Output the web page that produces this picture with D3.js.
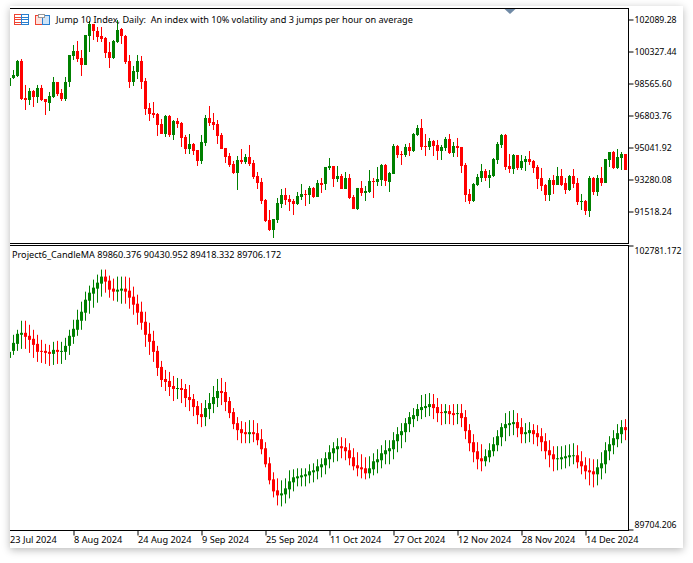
<!DOCTYPE html>
<html>
<head>
<meta charset="utf-8">
<script src="https://cdn.jsdelivr.net/npm/d3@7"></script>
<style>
  html, body { margin: 0; padding: 0; background: #fff; }
  #window { position: absolute; left: 10px; top: 6px; width: 673px; height: 542px; background: #fff; box-shadow: 0 2px 8px rgba(0,0,0,.28); }
  #chart { position: absolute; left: 0; top: 0; }
  text { font-family: "Noto Sans", sans-serif; font-size: 9.13px; fill: #000; }
</style>
</head>
<body>
<div id="window"></div>
<div id="chart"></div>
<script>
// tick labels
const priceTicks = [102089.28, 100327.44, 98565.60, 96803.76, 95041.92, 93280.08, 91518.24];
const lowerTicks = [102781.172, 89704.206];
const dateTickIndex = [0, 16, 32, 48, 64, 80, 96, 112, 128, 144];
const dateTickLabels = ['23 Jul 2024', '8 Aug 2024', '24 Aug 2024', '9 Sep 2024', '25 Sep 2024',
  '11 Oct 2024', '27 Oct 2024', '12 Nov 2024', '28 Nov 2024', '14 Dec 2024'];

// main panel, daily bars
const topOpen = [
  98429,98869,98979,99805,97767,97657,98153,97822,98319,97712,
  97492,97822,98649,98043,97712,98649,100080,100355,99970,99585,
  101181,101842,101456,101181,101071,100300,99970,100851,101566,101181,
  99805,98649,99199,99805,98704,97217,96942,96887,96336,95786,
  96777,95731,96501,96391,95621,94959,95235,94904,94299,95290,
  96667,96446,96336,95731,95015,94574,94134,93638,94354,94244,
  94519,94189,93473,93143,92151,91050,90500,91050,91931,92427,
  92206,92096,91931,92317,92482,92427,92813,92317,93088,93033,
  93914,94024,93307,93473,92757,93363,92317,91655,92813,92537,
  92592,93198,93143,93253,94079,93143,93583,95125,94684,94629,
  95070,94849,95731,96116,95125,95070,95400,95180,94849,95015,
  95511,94739,95125,95070,94079,92482,92096,92978,93363,93748,
  93363,93473,94354,95180,95731,94024,93858,94629,93914,94244,
  94408,94299,93969,93363,92978,92427,93253,92978,93473,93088,
  92702,93473,93088,92041,92096,91546,93363,92592,93363,93088,
  94354,94794,93914,94464,94684];
const topHigh = [
  98924,99309,99860,99914,98484,98319,98208,98484,98484,97712,
  98098,98924,98649,98263,98924,100135,100686,100906,100410,101236,
  102007,101842,101677,101677,101126,100851,100961,102062,101622,101236,
  100135,99530,100135,100080,98869,97492,97547,96942,96611,96832,
  96832,96556,96667,96446,95731,95786,95290,94904,95731,96832,
  97327,96942,96556,95841,95015,94739,94299,94574,94959,94684,
  95180,94354,93693,93363,92206,91601,91105,92262,92757,92813,
  92427,92206,92592,93033,92702,92923,92868,93253,93363,93969,
  94464,94024,94024,93583,93693,93583,92427,92813,93198,92923,
  93803,93363,93969,94134,94134,93693,95235,95180,94849,95235,
  95290,95841,96281,96611,95786,95566,95455,95455,95180,95621,
  95786,95345,95566,95070,94189,92757,93088,93583,94134,93858,
  93803,94464,95345,95786,95786,94684,94684,94629,94629,94574,
  94849,94354,94079,93914,93033,93363,93528,93969,93858,93363,
  93528,93858,93363,92482,92151,93473,93418,93528,93969,94408,
  94794,94849,94959,94794,94684];
const topLow = [
  98319,98813,98924,97657,97107,97382,97272,97492,97602,96832,
  97052,97767,97877,97602,97602,98374,99860,99750,98979,99585,
  100300,100961,100851,100851,99970,99419,99914,100796,100741,99640,
  98319,98429,98813,98263,96832,96501,96667,95676,95786,95621,
  95621,95455,96116,95070,94684,94684,94629,94024,94134,95125,
  96226,96006,95235,94959,94189,93969,93583,92702,94134,94134,
  94024,93307,92757,91931,90940,90445,90060,90885,91711,91876,
  91546,91326,91876,92151,91821,91931,92262,92317,92537,92702,
  93803,92868,93143,92757,92757,92206,91655,91601,92372,92096,
  92537,92262,92923,92923,92923,92592,93583,94464,94079,94519,
  94574,94794,95676,94904,94574,94904,94574,94354,94354,94849,
  94684,94519,94519,93638,92041,91931,92041,92923,93143,93198,
  92813,93418,94134,95015,93803,93638,93583,93803,93803,93748,
  94079,93638,92757,92647,92096,92096,92482,92978,92923,92482,
  92647,92813,91876,91601,91326,91216,92427,92372,92923,93088,
  93969,93858,93858,93803,93803];
const topClose = [
  98869,99034,99805,97712,97657,98153,97822,98319,97657,97547,
  97877,98649,97988,97712,98649,100135,100355,99914,99585,101236,
  101842,101456,101126,101015,100245,99970,100906,101511,101181,99750,
  98649,99254,99805,98649,97161,96887,96832,96281,95786,96777,
  95731,96501,96336,95566,94959,95235,94849,94299,95345,96667,
  96391,96281,95676,94959,94519,94079,93638,94354,94244,94519,
  94134,93418,93088,92096,90995,90500,91105,91986,92427,92151,
  92041,91931,92372,92482,92427,92813,92317,93088,92978,93969,
  94024,93307,93473,92757,93363,92262,91655,92813,92537,92647,
  93198,93143,93307,94079,93198,93638,95125,94629,94629,95070,
  94849,95786,96116,95070,95070,95400,95125,94849,95070,95511,
  94739,95125,95015,94024,92427,92096,93033,93418,93748,93363,
  93528,94408,95235,95731,93969,93858,94629,93914,94299,94408,
  94244,93914,93307,92923,92427,93253,92978,93473,92978,92702,
  93473,93033,92041,92096,91546,93363,92592,93363,93088,94408,
  94794,93914,94519,94684,93803];

// lower panel, Project6_CandleMA
const maOpen = [
  97605,97929,98252,98669,98761,98623,98484,98252,97929,97929,
  97883,97790,97975,97883,97883,98160,98576,98900,99316,99686,
  100240,100563,100794,101025,101349,101164,100794,100656,100702,100794,
  100702,100425,100101,99732,99270,98715,98391,97929,97190,96635,
  96543,96312,96173,96219,96173,95804,95711,95388,95018,94880,
  95249,95480,95757,96081,96035,95619,95111,94602,94325,94187,
  94094,94187,94140,93863,93446,92753,92014,91506,91275,91321,
  91552,91876,92060,92107,92153,92199,92338,92384,92568,92661,
  92938,93215,93400,93539,93493,93354,93031,92661,92568,92522,
  92291,92476,92800,92892,93169,93308,93400,93770,94048,94187,
  94556,94787,94926,95203,95295,95342,95480,95342,95111,95064,
  95157,95064,95018,95064,94880,94279,93724,93308,92984,92846,
  93031,93308,93585,93954,94371,94510,94556,94649,94418,94094,
  94140,94279,94140,94001,93770,93354,93169,92938,92938,92984,
  93031,93077,93123,92846,92661,92430,92384,92245,92522,92707,
  93308,93585,93862,94094,94418];
const maHigh = [
  97975,98669,98900,99316,99316,99131,98900,98669,98437,98252,
  98206,98345,98391,98345,98530,98900,99362,99824,100194,100656,
  100933,101210,101441,101672,101672,101395,101256,101349,101349,101349,
  101302,100887,100517,100194,99732,99223,98854,98160,97467,97051,
  96959,96774,96681,96635,96404,96358,95942,95619,95526,95665,
  95988,96312,96635,96681,96497,95804,95295,94880,94695,94649,
  94741,94741,94602,94325,93724,93031,92338,92060,91968,92060,
  92430,92476,92522,92522,92522,92707,92753,92938,92984,93262,
  93585,93724,93908,93954,93908,93677,93446,93262,93169,93031,
  93077,93215,93400,93585,93816,93816,94187,94418,94602,94833,
  95111,95295,95480,95896,95942,95988,95942,95758,95480,95480,
  95434,95480,95480,95480,95203,94556,94094,93724,93631,93400,
  93677,93954,94279,94602,95064,95157,95203,95064,94833,94602,
  94649,94556,94510,94371,94140,93816,93539,93539,93539,93585,
  93631,93677,93585,93308,93031,92984,92938,92938,93262,93724,
  94001,94279,94556,94741,94787];
const maLow = [
  97467,97744,97929,98021,98021,97836,97605,97421,97374,97328,
  97236,97282,97328,97328,97513,97744,98252,98623,98900,99316,
  99639,99916,100147,100425,100609,100378,100240,100194,100101,100101,
  99870,99593,99131,98900,98114,97744,97421,96774,96266,96081,
  95850,95619,95711,95526,95342,95157,94926,94556,94418,94464,
  94787,95064,95342,95434,95157,94833,94325,93816,93677,93677,
  93677,93724,93585,93169,92568,91783,91182,90813,90767,90905,
  91136,91460,91691,91691,91691,91829,91876,92014,92107,92245,
  92522,92800,92846,92984,92892,92661,92430,92153,92060,92014,
  92060,92199,92291,92522,92707,92707,92938,93262,93446,93724,
  94187,94418,94695,94787,94880,94926,94787,94649,94510,94556,
  94556,94510,94556,94418,93863,93308,92800,92476,92384,92615,
  92800,93077,93308,93539,93770,94001,94048,93954,93677,93677,
  93724,93631,93539,93308,92938,92568,92384,92430,92476,92522,
  92615,92707,92522,92245,92014,91737,91645,91737,92014,92291,
  92892,93169,93493,93677,93816];
const maClose = [
  97883,98298,98715,98761,98576,98437,98206,97883,97883,97836,
  97790,97975,97883,97929,98160,98623,98946,99362,99732,100286,
  100609,100840,101071,101349,101118,100748,100656,100748,100794,100656,
  100378,100055,99686,99223,98669,98345,97883,97143,96589,96497,
  96266,96173,96219,96127,95757,95665,95342,94972,94880,95295,
  95526,95804,96081,95988,95573,95064,94556,94279,94140,94094,
  94187,94094,93816,93400,92707,91968,91460,91275,91367,91598,
  91922,92107,92153,92199,92245,92384,92430,92615,92707,92984,
  93262,93446,93539,93446,93308,92984,92615,92522,92476,92291,
  92522,92846,92938,93215,93354,93446,93816,94094,94233,94602,
  94880,94972,95249,95342,95388,95480,95295,95064,95064,95157,
  95018,94972,95064,94833,94233,93677,93262,92938,92846,93077,
  93354,93631,94001,94418,94556,94602,94649,94371,94094,94187,
  94279,94094,93954,93724,93308,93123,92938,92984,93031,93077,
  93123,93123,92800,92615,92384,92338,92245,92568,92753,93354,
  93631,93908,94140,94418,94279];

const barIndex = d3.range(topOpen.length);

const width = 693, height = 563;
const left = 10, right = 628;
const topPanel = { top: 8, bottom: 243 };
const lowerPanel = { top: 245.5, bottom: 530 };

const svg = d3.select('#chart').append('svg')
  .attr('width', width)
  .attr('height', height);

// one bar every 4 px, the first one is cut by the left edge
const x = d3.scaleLinear()
  .domain([0, barIndex.length - 1])
  .range([9.5, 625.5]);

const yTop = d3.scaleLinear()
  .domain([91518.24, 102089.28])
  .range([211.5, 19.5]);

const yLower = d3.scaleLinear()
  .domain([lowerTicks[1], lowerTicks[0]])
  .range([529.5, 245.5]);

svg.append('defs').append('clipPath').attr('id', 'plot')
  .append('rect').attr('x', left).attr('y', 0).attr('width', right - left).attr('height', height);

function drawCandles(o, h, l, c, y) {
  const g = svg.append('g').attr('clip-path', 'url(#plot)');
  const color = (i) => (c[i] >= o[i] ? '#008000' : '#ff0000');
  g.selectAll('.wick').data(barIndex).enter().append('line')
    .attr('class', 'wick')
    .attr('x1', (i) => x(i))
    .attr('x2', (i) => x(i))
    .attr('y1', (i) => y(h[i]))
    .attr('y2', (i) => y(l[i]))
    .attr('stroke', color)
    .attr('stroke-width', 1);
  g.selectAll('.body').data(barIndex).enter().append('rect')
    .attr('class', 'body')
    .attr('x', (i) => x(i) - 1.5)
    .attr('width', 3)
    .attr('y', (i) => y(Math.max(o[i], c[i])))
    .attr('height', (i) => Math.max(1, Math.abs(y(o[i]) - y(c[i]))))
    .attr('fill', color);
}

drawCandles(topOpen, topHigh, topLow, topClose, yTop);
drawCandles(maOpen, maHigh, maLow, maClose, yLower);

// axes
const topAxis = svg.append('g')
  .attr('transform', `translate(${right + 0.5},0)`)
  .call(d3.axisRight(yTop).tickValues(priceTicks).tickSize(5).tickPadding(1).tickFormat(d3.format('.2f')));
topAxis.select('.domain').remove();
topAxis.selectAll('line').attr('stroke', '#000');
topAxis.selectAll('text').style('font-size', '8.7px');

const lowerAxis = svg.append('g')
  .attr('transform', `translate(${right + 0.5},0)`)
  .call(d3.axisRight(yLower).tickValues(lowerTicks).tickSize(5).tickPadding(1).tickFormat(d3.format('.3f')));
lowerAxis.select('.domain').remove();
lowerAxis.selectAll('line').attr('stroke', '#000');
lowerAxis.selectAll('text').style('font-size', '8.7px')
  .attr('dy', (d) => (d === lowerTicks[0] ? '0.95em' : '-0.25em'));

const dateAxis = svg.append('g')
  .attr('transform', `translate(0,${lowerPanel.bottom + 0.5})`)
  .call(d3.axisBottom(x).tickValues(dateTickIndex).tickSize(5).tickPadding(0)
    .tickFormat((d, i) => dateTickLabels[i]));
dateAxis.select('.domain').remove();
dateAxis.selectAll('line').attr('stroke', '#000');
dateAxis.selectAll('text').attr('text-anchor', 'start').attr('dy', '0.85em').style('font-size', '9.2px');
dateAxis.select('.tick line').remove();

// panel frames
const frame = svg.append('g').attr('stroke', '#000').attr('fill', 'none').attr('shape-rendering', 'crispEdges');
frame.append('path').attr('d', `M${left},${topPanel.top + 0.5}H${right + 0.5}V${topPanel.bottom + 0.5}H${left}`);
frame.append('path').attr('d', `M${left},${lowerPanel.top}H${right + 0.5}V${lowerPanel.bottom + 0.5}H${left}`);

// titles
svg.append('text').attr('x', 56).attr('y', 22.5)
  .text('Jump 10 Index, Daily:  An index with 10% volatility and 3 jumps per hour on average')
  .style('white-space', 'pre');
svg.append('text').attr('x', 12).attr('y', 257.5)
  .text('Project6_CandleMA 89860.376 90430.952 89418.332 89706.172');

// marker at the top edge
svg.append('path').attr('d', 'M504.5,9H515.5L510,14Z').attr('fill', '#708aa6');

// toolbar icons
const icons = svg.append('g').attr('fill', 'none').attr('shape-rendering', 'crispEdges');
icons.append('rect').attr('x', 14.5).attr('y', 14.5).attr('width', 7).attr('height', 10).attr('stroke', '#ee4433').attr('fill', '#fff');
icons.append('rect').attr('x', 21.5).attr('y', 14.5).attr('width', 7).attr('height', 10).attr('stroke', '#2a7fd0').attr('fill', '#fff');
[17, 19.5, 22].forEach((yy) => {
  icons.append('line').attr('x1', 15).attr('x2', 21).attr('y1', yy).attr('y2', yy).attr('stroke', '#ee4433');
  icons.append('line').attr('x1', 22).attr('x2', 28).attr('y1', yy).attr('y2', yy).attr('stroke', '#2a7fd0');
});
icons.append('rect').attr('x', 35.5).attr('y', 15.5).attr('width', 7).attr('height', 9).attr('stroke', '#ee4433').attr('fill', '#fde0da');
icons.append('rect').attr('x', 42.5).attr('y', 15.5).attr('width', 7).attr('height', 9).attr('stroke', '#2a7fd0').attr('fill', '#cfe4f7');
icons.append('rect').attr('x', 38.5).attr('y', 14.5).attr('width', 6).attr('height', 3).attr('stroke', '#999').attr('fill', '#fff');
</script>
</body>
</html>
